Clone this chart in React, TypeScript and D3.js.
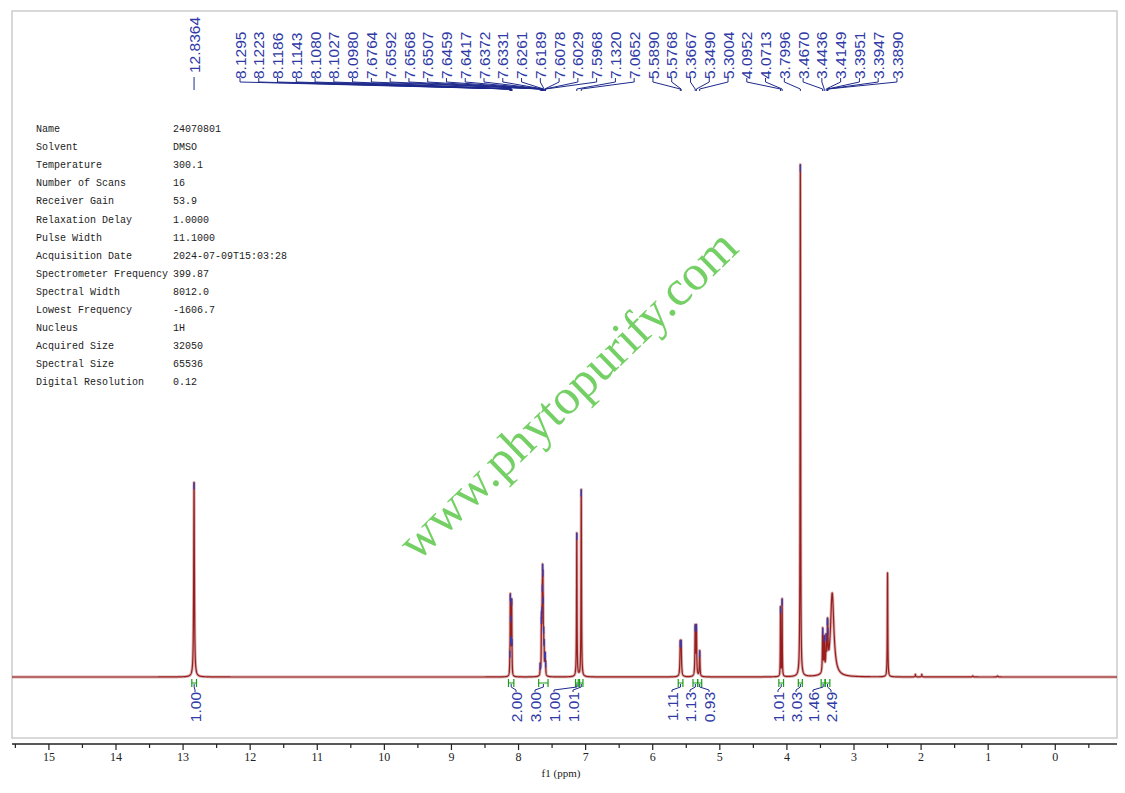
import React from 'react';
import * as d3 from 'd3';

const W = 1125;
const H = 793;

// Picked peak labels (ppm)
const peakLabels = [12.8364, 8.1295, 8.1223, 8.1186, 8.1143, 8.1080, 8.1027, 8.0980, 7.6764, 7.6592, 7.6568, 7.6507, 7.6459, 7.6417, 7.6372, 7.6331, 7.6261, 7.6189, 7.6078, 7.6029, 7.5968, 7.1320, 7.0652, 5.5890, 5.5768, 5.3667, 5.3490, 5.3004, 4.0952, 4.0713, 3.7996, 3.4670, 3.4436, 3.4149, 3.3951, 3.3947, 3.3890];

// Spectrum lines: position (ppm), height (relative, tallest = 100), half width (ppm)
const linePpm = [12.8364, 8.1295, 8.1223, 8.1186, 8.1143, 8.1080, 8.1027, 8.0980, 7.6764, 7.6592, 7.6568, 7.6507, 7.6459, 7.6417, 7.6372, 7.6331, 7.6261, 7.6189, 7.6078, 7.6029, 7.5968, 7.1320, 7.0652, 5.5890, 5.5768, 5.3667, 5.3490, 5.3004, 4.0952, 4.0713, 3.7996, 3.4670, 3.4436, 3.4149, 3.3951, 3.3947, 3.3890, 3.325, 2.50, 2.085, 1.99, 1.23, 0.86];
const lineHeight = [38, 2.5, 13, 5, 3, 3, 13, 3, 2, 6, 6, 7, 9, 13, 12, 8, 6, 5, 3, 3, 2, 28, 36.5, 6, 6, 9.5, 9.5, 5, 13.5, 15, 100, 8.5, 6.5, 6, 3.5, 3.5, 3.5, 16.3, 20.3, 0.5, 0.5, 0.2, 0.2];
const lineWidth = [0.006, 0.003, 0.003, 0.003, 0.003, 0.003, 0.003, 0.003, 0.003, 0.003, 0.003, 0.003, 0.003, 0.003, 0.003, 0.003, 0.003, 0.003, 0.003, 0.003, 0.003, 0.004, 0.004, 0.006, 0.006, 0.005, 0.005, 0.005, 0.003, 0.003, 0.004, 0.005, 0.005, 0.005, 0.005, 0.005, 0.005, 0.03, 0.004, 0.005, 0.005, 0.006, 0.006];

// Integrals
const integralFrom = [12.87, 8.15, 7.70, 7.15, 7.09, 5.62, 5.40, 5.33, 4.12, 3.83, 3.49, 3.43];
const integralTo = [12.80, 8.07, 7.56, 7.11, 7.04, 5.55, 5.33, 5.27, 4.05, 3.77, 3.43, 3.36];
const integralValues = ['1.00', '2.00', '3.00', '1.00', '1.01', '1.11', '1.13', '0.93', '1.01', '3.03', '1.46', '2.49'];

// Acquisition parameters
const paramNames = ['Name', 'Solvent', 'Temperature', 'Number of Scans', 'Receiver Gain', 'Relaxation Delay', 'Pulse Width', 'Acquisition Date', 'Spectrometer Frequency', 'Spectral Width', 'Lowest Frequency', 'Nucleus', 'Acquired Size', 'Spectral Size', 'Digital Resolution'];
const paramValues = ['24070801', 'DMSO', '300.1', '16', '53.9', '1.0000', '11.1000', '2024-07-09T15:03:28', '399.87', '8012.0', '-1606.7', '1H', '32050', '65536', '0.12'];

const axisTicks = [15, 14, 13, 12, 11, 10, 9, 8, 7, 6, 5, 4, 3, 2, 1, 0];

// layout (pixels) for integral label columns
const intLabelX = [195, 516, 535, 554, 573, 672, 690, 709, 778, 796, 813, 831];

function intensity(p: number): number {
  let s = 0;
  for (let i = 0; i < linePpm.length; i++) {
    const d = (p - linePpm[i]) / lineWidth[i];
    s += lineHeight[i] / (1 + d * d);
  }
  return s;
}

export default function App() {
  const left = 12, right = 1117;
  const x = d3.scaleLinear().domain([15.55, -0.92]).range([left, right]);
  const y = d3.scaleLinear().domain([0, 100]).range([677, 165]);

  const samples: number[] = d3.range(15.55, -0.92, -0.001).concat(linePpm);
  samples.sort((a, b) => b - a);
  const pts = samples.map((p) => [p, intensity(p)] as [number, number]);
  const line = d3.line<[number, number]>().x((d) => x(d[0])).y((d) => y(d[1]));
  const specPath = line(pts) || '';

  const blue = '#2f3aa6';
  const navy = '#1e2a8c';
  const green = '#1a9e1a';
  const axisY = 744;

  const minorTicks = d3.range(-0.5, 15.51, 0.5);

  // top peak label layout
  const labelX = peakLabels.map((p, i) => (i === 0 ? x(p) : 240 + (i - 1) * 18.77));

  return (
    <svg width={W} height={H} style={{ position: 'absolute', left: 0, top: 0, background: '#fff' }}>
      <rect x={0} y={0} width={W} height={H} fill="#fff" />
      <rect x={left} y={11} width={right - left} height={727} fill="none" stroke="#cccccc" strokeWidth={1.5} />

      {/* watermark */}
      <text
        transform="translate(571,398) rotate(-44)"
        textAnchor="middle"
        dominantBaseline="middle"
        fontFamily="Liberation Serif, serif"
        fontSize={50}
        fill="#66cc55"
        opacity={0.9}
      >
        www.phytopurify.com
      </text>

      {/* parameter table */}
      {paramNames.map((n, i) => (
        <g key={n}>
          <text x={36} y={132 + i * 18.1} fontFamily="Liberation Mono, monospace" fontSize={10} fill="#222">{n}</text>
          <text x={173} y={132 + i * 18.1} fontFamily="Liberation Mono, monospace" fontSize={10} fill="#222">{paramValues[i]}</text>
        </g>
      ))}

      {/* spectrum */}
      <path d={specPath} fill="none" stroke="#c99a9a" strokeWidth={3} strokeOpacity={0.75} strokeLinejoin="round" />
      <path d={specPath} fill="none" stroke="#9a1c1c" strokeWidth={1.2} strokeLinejoin="round" />

      {/* blue peak tips */}
      {peakLabels.map((p, i) => {
        const yi = y(intensity(p));
        if (yi > 667) return null;
        return <line key={'tip' + i} x1={x(p)} x2={x(p)} y1={yi} y2={yi + 7} stroke="#3a3ab0" strokeWidth={1.4} />;
      })}

      {/* top peak labels */}
      {peakLabels.map((p, i) => {
        const lx = labelX[i];
        const px = x(p);
        const yStart = i === 0 ? 73 : 79;
        const path = i === 0
          ? `M${px},77 L${px},90`
          : `M${lx},78 L${lx},82 L${px},89 L${px},91`;
        return (
          <g key={'pl' + i}>
            <path d={path} fill="none" stroke={navy} strokeWidth={1} />
            <text
              transform={`translate(${lx},${yStart}) rotate(-90)`}
              dy="0.36em"
              fontFamily="Liberation Sans, Arial, sans-serif"
              fontSize={15.5}
              fill={blue}
            >
              {p.toFixed(4)}
            </text>
          </g>
        );
      })}

      {/* integrals */}
      {integralValues.map((v, i) => {
        const x1 = x(integralFrom[i]);
        const x2 = x(integralTo[i]);
        const cx = (x1 + x2) / 2;
        const lx = intLabelX[i];
        return (
          <g key={'int' + i}>
            <path d={`M${x1},679 L${x1},687 M${x1},683 L${x2},683 M${x2},679 L${x2},687`} fill="none" stroke={green} strokeWidth={1.2} />
            <path d={`M${cx},684 L${cx},687 L${lx},690 L${lx},692`} fill="none" stroke={navy} strokeWidth={1} />
            <text
              transform={`translate(${lx},692) rotate(-90)`}
              dy="0.36em"
              textAnchor="end"
              fontFamily="Liberation Sans, Arial, sans-serif"
              fontSize={15.5}
              fill={blue}
            >
              {v}
            </text>
          </g>
        );
      })}

      {/* axis */}
      <line x1={left} x2={right} y1={axisY} y2={axisY} stroke="#222" strokeWidth={1.6} />
      {minorTicks.map((t) => {
        const major = Math.abs(t - Math.round(t)) < 1e-6;
        return (
          <line key={'t' + t} x1={x(t)} x2={x(t)} y1={axisY} y2={axisY + (major ? 6 : 4)} stroke="#222" strokeWidth={1.2} />
        );
      })}
      {axisTicks.map((t) => (
        <text key={'tl' + t} x={x(t)} y={761} textAnchor="middle" fontFamily="Liberation Serif, serif" fontSize={12} fill="#222">
          {t}
        </text>
      ))}
      <text x={561} y={777} textAnchor="middle" fontFamily="Liberation Serif, serif" fontSize={11} fill="#222">
        f1 (ppm)
      </text>
    </svg>
  );
}
